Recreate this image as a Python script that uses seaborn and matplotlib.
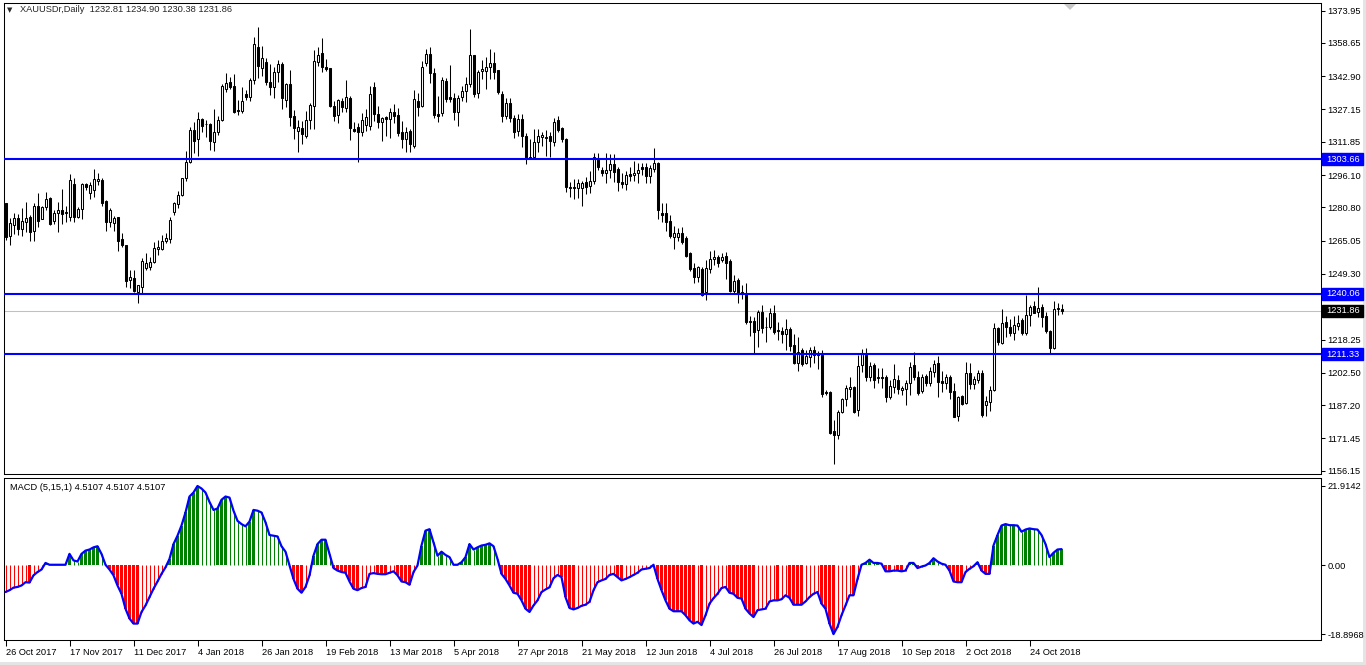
import matplotlib
matplotlib.use("Agg")
import matplotlib.pyplot as plt
import matplotlib.transforms as mtransforms
import numpy as np
import seaborn as sns
from matplotlib.patches import Polygon, Rectangle

# ---------------- data ----------------
opens = [
    1282.7, 1267.4, 1272.5, 1275.6, 1270.4, 1274.0, 1276.1, 1269.8, 1281.5, 1275.5,
    1281.1, 1285.4, 1274.4, 1278.0, 1279.6, 1278.0, 1276.4, 1291.9, 1276.4, 1279.9,
    1291.9, 1287.5, 1289.0, 1293.5, 1293.8, 1284.0, 1274.0, 1273.3, 1276.1, 1265.8,
    1263.0, 1246.6, 1247.2, 1240.9, 1243.3, 1252.0, 1252.4, 1254.8, 1260.9, 1261.0,
    1264.9, 1266.0, 1278.5, 1282.3, 1286.7, 1294.6, 1302.1, 1317.4, 1313.0, 1322.5,
    1320.4, 1320.1, 1311.9, 1316.3, 1322.2, 1336.8, 1340.0, 1338.2, 1326.9, 1326.6,
    1334.5, 1333.2, 1341.1, 1356.9, 1346.6, 1349.5, 1340.3, 1338.0, 1344.7, 1348.5,
    1331.5, 1339.2, 1324.1, 1317.1, 1318.2, 1314.8, 1322.2, 1329.0, 1349.8, 1353.7,
    1347.4, 1346.6, 1329.0, 1324.5, 1331.1, 1327.7, 1332.4, 1317.9, 1318.7, 1316.6,
    1319.8, 1319.5, 1337.9, 1324.8, 1321.4, 1323.4, 1322.5, 1325.8, 1324.5, 1316.3,
    1313.0, 1317.0, 1310.0, 1331.3, 1329.0, 1349.3, 1353.2, 1344.3, 1325.0, 1325.3,
    1340.6, 1333.2, 1332.4, 1326.1, 1333.2, 1335.9, 1339.0, 1352.9, 1334.8, 1345.4,
    1345.5, 1347.1, 1349.0, 1345.8, 1334.5, 1324.2, 1330.0, 1323.3, 1316.9, 1322.6,
    1314.8, 1304.8, 1304.8, 1311.9, 1314.0, 1314.3, 1314.6, 1311.9, 1322.2, 1318.2,
    1313.0, 1290.6, 1290.6, 1290.1, 1289.8, 1293.0, 1290.9, 1293.5, 1303.6, 1298.5,
    1296.9, 1298.5, 1301.4, 1298.8, 1293.0, 1291.7, 1296.6, 1296.1, 1296.9, 1300.1,
    1300.1, 1295.7, 1298.8, 1302.0, 1278.3, 1278.3, 1274.5, 1267.0, 1266.6, 1268.8,
    1266.2, 1259.1, 1251.9, 1247.7, 1251.5, 1241.0, 1251.5, 1256.2, 1257.2, 1255.9,
    1257.8, 1255.6, 1241.4, 1246.4, 1240.9, 1239.8, 1226.7, 1227.2, 1222.8, 1231.5,
    1224.0, 1224.0, 1230.7, 1222.5, 1222.5, 1220.9, 1223.1, 1215.7, 1207.3, 1213.3,
    1207.0, 1210.2, 1213.3, 1211.4, 1210.9, 1193.6, 1193.6, 1175.2, 1173.1, 1184.1,
    1190.0, 1194.7, 1196.0, 1184.9, 1206.2, 1211.0, 1200.4, 1206.2, 1200.7, 1200.7,
    1200.7, 1190.9, 1196.0, 1199.1, 1194.4, 1194.7, 1197.5, 1206.2, 1200.7, 1194.1,
    1201.0, 1197.5, 1203.0, 1207.0, 1198.8, 1197.9, 1200.4, 1193.9, 1182.1, 1191.5,
    1188.1, 1202.6, 1197.2, 1199.1, 1202.6, 1187.3, 1188.8, 1194.4, 1223.6, 1216.5,
    1226.7, 1224.4, 1221.5, 1224.9, 1227.5, 1221.2, 1229.9, 1234.1, 1231.5, 1233.5,
    1229.4, 1222.5, 1214.1, 1232.6, 1232.81,
]
highs = [
    1283.0, 1275.6, 1278.3, 1277.5, 1280.4, 1283.5, 1277.2, 1282.7, 1287.5, 1281.5,
    1287.9, 1285.6, 1279.6, 1283.2, 1289.5, 1281.5, 1296.6, 1294.6, 1281.1, 1292.2,
    1292.2, 1293.0, 1298.8, 1296.9, 1294.6, 1284.3, 1280.7, 1276.7, 1276.4, 1268.5,
    1263.0, 1251.2, 1251.2, 1244.1, 1256.7, 1259.1, 1257.5, 1264.6, 1265.4, 1267.7,
    1268.5, 1276.1, 1283.5, 1288.6, 1294.9, 1307.5, 1319.0, 1321.1, 1325.8, 1323.0,
    1322.2, 1320.6, 1327.4, 1324.2, 1339.2, 1344.3, 1342.7, 1344.0, 1331.6, 1337.9,
    1336.4, 1341.9, 1361.6, 1366.0, 1357.2, 1351.7, 1348.5, 1347.4, 1350.6, 1349.8,
    1339.5, 1345.8, 1326.9, 1322.2, 1321.8, 1326.6, 1330.1, 1355.3, 1356.9, 1361.1,
    1351.0, 1346.9, 1331.2, 1332.1, 1332.4, 1341.1, 1333.7, 1321.1, 1320.6, 1325.3,
    1327.4, 1338.3, 1340.3, 1328.9, 1323.7, 1324.2, 1328.0, 1329.6, 1327.7, 1321.7,
    1319.0, 1317.9, 1336.4, 1334.8, 1350.1, 1355.6, 1356.6, 1346.6, 1333.7, 1342.7,
    1342.2, 1348.2, 1334.8, 1334.0, 1338.4, 1342.7, 1365.2, 1352.9, 1345.8, 1350.6,
    1352.1, 1355.8, 1354.2, 1345.8, 1335.9, 1332.4, 1332.4, 1324.5, 1324.9, 1324.9,
    1315.9, 1313.2, 1317.9, 1317.9, 1316.6, 1317.4, 1316.6, 1323.0, 1324.0, 1319.0,
    1313.5, 1293.0, 1294.1, 1294.1, 1293.5, 1295.0, 1298.2, 1306.7, 1306.4, 1300.1,
    1306.7, 1306.1, 1306.1, 1300.1, 1297.2, 1298.2, 1300.1, 1302.9, 1302.0, 1301.7,
    1302.0, 1300.9, 1308.8, 1302.5, 1282.7, 1283.0, 1277.2, 1272.0, 1270.9, 1271.4,
    1267.3, 1259.9, 1254.3, 1253.1, 1252.8, 1255.9, 1260.3, 1260.6, 1258.3, 1259.1,
    1259.9, 1256.2, 1248.8, 1247.2, 1244.1, 1244.9, 1229.4, 1228.8, 1232.3, 1234.6,
    1228.8, 1233.0, 1234.6, 1226.7, 1224.4, 1227.8, 1224.1, 1220.9, 1219.3, 1214.1,
    1213.3, 1214.6, 1215.2, 1213.0, 1213.3, 1194.4, 1194.1, 1180.0, 1184.9, 1190.5,
    1196.8, 1200.4, 1196.3, 1210.9, 1213.6, 1214.1, 1207.8, 1207.3, 1204.6, 1204.6,
    1201.5, 1199.1, 1206.7, 1201.5, 1196.3, 1199.1, 1207.8, 1212.5, 1203.5, 1201.9,
    1201.9, 1205.4, 1208.6, 1210.5, 1203.5, 1201.9, 1201.5, 1197.9, 1191.5, 1192.0,
    1207.8, 1207.3, 1201.0, 1203.9, 1203.9, 1191.5, 1196.3, 1226.3, 1224.4, 1232.6,
    1229.4, 1227.8, 1229.4, 1229.9, 1228.3, 1239.4, 1234.6, 1236.7, 1243.3, 1235.1,
    1231.5, 1222.8, 1236.7, 1235.7, 1234.90,
]
lows = [
    1265.5, 1263.0, 1268.2, 1267.7, 1267.3, 1269.3, 1264.9, 1264.9, 1271.7, 1275.2,
    1279.6, 1272.5, 1272.8, 1269.3, 1273.0, 1274.0, 1274.4, 1274.0, 1275.6, 1275.2,
    1289.0, 1285.0, 1285.9, 1291.4, 1281.5, 1269.8, 1271.7, 1269.8, 1260.3, 1261.9,
    1243.3, 1242.5, 1240.9, 1235.7, 1240.1, 1251.2, 1251.2, 1254.3, 1258.3, 1260.6,
    1264.1, 1264.1, 1277.2, 1280.7, 1286.4, 1293.5, 1301.7, 1306.4, 1305.3, 1316.6,
    1314.3, 1308.0, 1307.5, 1315.1, 1321.7, 1335.6, 1336.8, 1325.3, 1324.5, 1325.6,
    1331.6, 1331.2, 1339.0, 1341.9, 1343.2, 1338.7, 1334.0, 1332.4, 1340.3, 1327.4,
    1328.5, 1319.5, 1313.2, 1306.9, 1310.6, 1313.8, 1317.9, 1317.9, 1347.9, 1344.7,
    1345.4, 1328.5, 1321.7, 1320.6, 1326.1, 1326.1, 1312.7, 1316.3, 1302.4, 1314.8,
    1317.0, 1317.4, 1321.7, 1318.2, 1312.2, 1314.8, 1313.5, 1320.9, 1314.8, 1309.1,
    1307.2, 1306.9, 1309.1, 1324.2, 1328.5, 1347.9, 1339.5, 1323.0, 1321.1, 1324.2,
    1330.5, 1330.5, 1322.2, 1319.5, 1331.2, 1330.5, 1337.9, 1333.2, 1332.7, 1341.6,
    1336.8, 1341.6, 1341.6, 1334.3, 1321.4, 1322.6, 1321.1, 1313.8, 1314.8, 1309.5,
    1301.2, 1303.7, 1304.0, 1307.2, 1309.9, 1305.1, 1304.5, 1309.9, 1316.6, 1311.9,
    1288.3, 1285.9, 1284.6, 1285.1, 1281.5, 1287.1, 1287.5, 1291.9, 1298.5, 1295.7,
    1292.2, 1294.6, 1293.0, 1288.7, 1289.8, 1289.0, 1293.5, 1293.5, 1292.2, 1296.1,
    1292.5, 1292.5, 1297.7, 1275.2, 1274.0, 1269.8, 1266.2, 1261.0, 1265.1, 1263.5,
    1257.5, 1250.9, 1245.2, 1245.7, 1238.9, 1237.0, 1249.9, 1253.6, 1252.4, 1255.1,
    1246.8, 1240.9, 1240.1, 1235.7, 1237.3, 1225.6, 1220.0, 1211.4, 1214.6, 1221.2,
    1217.3, 1223.1, 1220.9, 1218.1, 1216.5, 1213.3, 1213.0, 1206.7, 1203.5, 1205.8,
    1206.7, 1205.1, 1207.3, 1204.2, 1190.9, 1192.0, 1173.6, 1159.4, 1171.1, 1183.7,
    1186.8, 1191.2, 1183.7, 1182.1, 1203.1, 1198.8, 1198.8, 1195.2, 1197.9, 1195.2,
    1188.9, 1190.0, 1192.8, 1192.5, 1192.0, 1187.3, 1192.0, 1199.1, 1192.0, 1192.8,
    1196.3, 1196.3, 1200.4, 1190.9, 1193.6, 1194.7, 1190.0, 1181.4, 1179.9, 1187.3,
    1187.8, 1194.7, 1194.7, 1197.5, 1181.8, 1182.1, 1184.6, 1194.1, 1215.7, 1216.2,
    1219.6, 1219.9, 1218.1, 1222.8, 1220.4, 1220.4, 1224.7, 1230.7, 1228.8, 1224.1,
    1221.5, 1211.4, 1213.6, 1229.9, 1230.38,
]
closes = [
    1266.6, 1273.3, 1275.6, 1270.4, 1274.4, 1275.6, 1269.3, 1281.5, 1274.4, 1280.8,
    1284.8, 1272.8, 1278.3, 1279.6, 1277.5, 1278.8, 1293.8, 1276.4, 1279.9, 1291.9,
    1290.6, 1291.4, 1294.1, 1294.1, 1283.0, 1274.0, 1279.6, 1275.6, 1265.1, 1263.0,
    1246.1, 1247.9, 1241.4, 1244.1, 1255.4, 1254.3, 1255.1, 1261.4, 1261.9, 1264.9,
    1266.2, 1274.8, 1282.7, 1286.7, 1294.6, 1302.4, 1317.4, 1312.2, 1322.6, 1319.5,
    1320.1, 1312.2, 1316.3, 1322.2, 1338.4, 1339.5, 1338.0, 1325.8, 1326.6, 1331.3,
    1333.2, 1341.1, 1358.0, 1347.9, 1351.7, 1340.0, 1338.0, 1344.7, 1348.5, 1332.4,
    1339.0, 1323.7, 1318.2, 1318.7, 1315.7, 1322.2, 1329.3, 1350.1, 1352.9, 1347.4,
    1346.3, 1329.0, 1324.2, 1331.6, 1328.5, 1333.2, 1318.2, 1317.1, 1316.6, 1322.2,
    1323.7, 1334.5, 1324.8, 1321.4, 1323.0, 1322.5, 1325.8, 1324.2, 1315.9, 1313.0,
    1316.3, 1310.6, 1331.9, 1328.5, 1347.1, 1353.2, 1344.3, 1324.5, 1324.2, 1341.1,
    1332.1, 1332.1, 1326.1, 1332.4, 1335.9, 1339.0, 1352.9, 1334.5, 1344.7, 1346.3,
    1347.4, 1349.0, 1345.0, 1335.6, 1324.2, 1330.0, 1323.0, 1316.3, 1322.6, 1314.8,
    1304.0, 1304.3, 1311.6, 1314.6, 1315.1, 1313.5, 1312.4, 1321.4, 1317.4, 1313.0,
    1290.3, 1289.8, 1289.8, 1292.5, 1292.5, 1290.6, 1293.5, 1304.5, 1300.1, 1297.2,
    1298.5, 1301.4, 1297.7, 1293.0, 1291.7, 1296.1, 1295.7, 1296.9, 1298.5, 1298.8,
    1295.7, 1299.3, 1301.7, 1279.6, 1277.2, 1274.0, 1267.3, 1268.5, 1268.8, 1264.6,
    1257.8, 1251.5, 1247.7, 1252.4, 1239.3, 1251.9, 1256.2, 1257.5, 1254.3, 1257.2,
    1254.6, 1241.4, 1246.1, 1240.5, 1240.1, 1226.7, 1227.2, 1222.0, 1231.5, 1223.6,
    1224.1, 1230.7, 1222.0, 1222.6, 1220.9, 1223.1, 1215.2, 1207.0, 1212.5, 1206.7,
    1210.5, 1213.3, 1211.0, 1210.9, 1192.5, 1192.8, 1173.9, 1173.1, 1184.1, 1190.0,
    1195.2, 1195.6, 1184.1, 1205.8, 1211.7, 1200.4, 1205.8, 1199.1, 1199.9, 1199.9,
    1190.9, 1196.3, 1199.4, 1195.0, 1195.5, 1197.9, 1205.1, 1200.7, 1192.8, 1200.7,
    1197.9, 1203.5, 1206.7, 1198.3, 1197.9, 1200.4, 1193.6, 1181.8, 1190.9, 1187.8,
    1202.3, 1197.2, 1199.4, 1202.6, 1182.6, 1189.3, 1194.4, 1223.6, 1217.3, 1226.3,
    1224.4, 1221.5, 1225.2, 1226.3, 1221.2, 1229.9, 1233.8, 1231.0, 1233.0, 1228.8,
    1222.5, 1214.1, 1232.6, 1233.0, 1231.86,
]
macd = [
    -7.3, -6.8, -6.1, -5.9, -5.5, -4.6, -4.7, -2.7, -1.8, -1.1,
    0.7, 0.2, 0.2, 0.2, 0.2, 0.2, 3.2, 1.4, 1.1, 3.2,
    4.1, 4.4, 5.0, 5.3, 3.2, 0.2, -1.1, -2.7, -5.5, -7.8,
    -11.9, -14.6, -16.0, -16.0, -12.8, -11.0, -8.7, -6.4, -4.4, -2.3,
    -0.5, 1.8, 5.9, 8.2, 11.0, 14.6, 19.0, 20.1, 21.9, 21.2,
    20.1, 17.5, 15.3, 15.7, 18.1, 19.0, 18.7, 15.1, 12.3, 11.4,
    10.8, 12.1, 15.3, 15.1, 14.6, 11.9, 8.4, 8.2, 8.0, 5.3,
    3.8, 0.0, -3.7, -6.4, -7.5, -5.9, -2.7, 2.7, 5.9, 7.1,
    7.1, 3.2, -0.7, -1.4, -1.8, -2.0, -4.4, -6.4, -6.8, -6.2,
    -5.9, -2.3, -2.1, -2.3, -2.4, -2.4, -2.0, -1.6, -2.7, -4.4,
    -4.6, -5.3, -1.8, 0.0, 5.5, 9.6, 10.0, 6.4, 2.7, 3.8,
    2.9, 2.3, 0.2, 0.2, 0.9, 2.3, 5.9, 4.4, 5.0, 5.5,
    5.7, 6.1, 5.3, 1.8, -2.3, -3.7, -5.5, -7.5, -7.8, -9.6,
    -11.9, -12.8, -11.0, -9.6, -7.3, -6.6, -6.0, -3.5, -2.6, -3.2,
    -8.7, -11.7, -12.1, -11.7, -11.1, -10.8, -10.0, -6.8, -4.6, -4.1,
    -3.7, -2.6, -2.3, -3.2, -4.1, -3.7, -3.2, -2.6, -2.0, -1.1,
    -0.9, -0.7, 0.2, -3.7, -6.8, -9.6, -11.9, -12.6, -12.6, -12.6,
    -13.7, -15.1, -16.0, -15.5, -16.4, -13.7, -10.5, -9.0, -7.8, -6.2,
    -5.9, -7.5, -7.8, -8.9, -9.1, -11.9, -13.2, -14.2, -12.3, -12.1,
    -11.9, -9.9, -9.6, -9.6, -9.3, -8.2, -8.9, -10.8, -10.8, -10.8,
    -9.9, -8.7, -7.8, -7.3, -10.5, -11.9, -16.0, -18.9, -16.9, -13.7,
    -11.0, -8.2, -8.2, -3.7, 0.2, 0.7, 1.6, 0.7, 0.7, 0.5,
    -1.6, -1.6, -1.4, -1.4, -1.6, -1.4, 0.7, 0.7, -0.7, -0.3,
    0.0, 0.7, 2.0, 1.1, 0.5, 0.2, -1.4, -4.4, -4.6, -4.6,
    -1.8, -0.9, -0.2, 0.9, -1.4, -2.3, -2.3, 5.5, 8.4, 11.0,
    11.4, 11.1, 11.1, 11.0, 9.3, 9.9, 10.2, 10.0, 9.9, 8.4,
    5.9, 2.3, 3.5, 4.4, 4.51,
]
date_labels = ["26 Oct 2017", "17 Nov 2017", "11 Dec 2017", "4 Jan 2018", "26 Jan 2018",
               "19 Feb 2018", "13 Mar 2018", "5 Apr 2018", "27 Apr 2018", "21 May 2018",
               "12 Jun 2018", "4 Jul 2018", "26 Jul 2018", "17 Aug 2018", "10 Sep 2018",
               "2 Oct 2018", "24 Oct 2018"]
date_label_bars = [0, 16, 32, 48, 64, 80, 96, 112, 128, 144, 160, 176, 192, 208, 224, 240, 256]
price_ticks = [1373.95, 1358.65, 1342.90, 1327.15, 1311.85, 1296.10, 1280.80, 1265.05,
               1249.30, 1233.55, 1218.25, 1202.50, 1187.20, 1171.45, 1156.15]
hidden_tick = 1233.55   # its label sits under the bid-price box in the reference
level_lines = [1303.66, 1240.06, 1211.33]
bid_price = 1231.86
macd_ticks = [21.9142, 0.0, -18.8968]
macd_tick_labels = ["21.9142", "0.00", "-18.8968"]
header = "XAUUSDr,Daily  1232.81 1234.90 1230.38 1231.86"
macd_title = "MACD (5,15,1) 4.5107 4.5107 4.5107"

# ---------------- styling ----------------
sns.set_style("white")
plt.rcParams['font.family'] = ['Liberation Sans', 'DejaVu Sans']
FS = 6.7
BLUE = '#0000FF'

W, H = 1366, 665
fig = plt.figure(figsize=(W / 100, H / 100), dpi=100)
fig.patch.set_facecolor('white')

# light window frame (behind everything)
fig.patches.append(Rectangle((1363 / W, 0), 3 / W, 1, transform=fig.transFigure,
                             facecolor='#E4E4E4', edgecolor='none', zorder=-5))
fig.patches.append(Rectangle((0, 0), 1, 3 / H, transform=fig.transFigure,
                             facecolor='#E4E4E4', edgecolor='none', zorder=-5))


def frac(l, t, r, b):
    return [l / W, 1 - b / H, (r - l) / W, (b - t) / H]


AX_L, AX_R = 4, 1321
ax1 = fig.add_axes(frac(AX_L, 3, AX_R, 474))
ax2 = fig.add_axes(frac(AX_L, 478, AX_R, 640))
AXW = AX_R - AX_L
for ax in (ax1, ax2):
    ax.set_zorder(2)

n = len(closes)
idx = np.arange(n)
o = np.array(opens); h = np.array(highs); l = np.array(lows); c = np.array(closes)

# ---------------- price panel ----------------
ax1.axhline(bid_price, color='#C0C0C0', lw=0.75, zorder=1)
ax1.vlines(idx, l, h, color='black', lw=0.75, zorder=2)
bull = c >= o
body_bottom = np.minimum(o, c)
body_h = np.maximum(np.abs(c - o), 0.25)
ax1.bar(idx[bull], body_h[bull], bottom=body_bottom[bull], width=0.5,
        facecolor='white', edgecolor='black', linewidth=0.75, zorder=3)
ax1.bar(idx[~bull], body_h[~bull], bottom=body_bottom[~bull], width=0.5,
        facecolor='black', edgecolor='black', linewidth=0.75, zorder=3)
for v in level_lines:
    ax1.axhline(v, color=BLUE, lw=1.5, zorder=4)

ax1.set_xlim(-0.375, 328.875)
ax1.set_ylim(1154.64, 1377.54)
ax1.yaxis.tick_right()
ax1.set_yticks(price_ticks)
ax1.set_yticklabels(["" if v == hidden_tick else f"{v:.2f}" for v in price_ticks])
ax1.set_xticks([])
ax1.tick_params(axis='y', direction='out', length=3, width=0.75, pad=1.5,
                labelsize=FS, colors='black', right=True, left=False)

# price-label boxes on the right scale
PX_PER_USD = 471 / (1377.54 - 1154.64)
box_h = 12 / PX_PER_USD
trans = mtransforms.blended_transform_factory(ax1.transAxes, ax1.transData)
for v, fc in [(lv, BLUE) for lv in level_lines] + [(bid_price, 'black')]:
    ax1.add_patch(Rectangle((1 + 1 / AXW, v - box_h / 2), 41 / AXW, box_h,
                            transform=trans, facecolor=fc, edgecolor=fc,
                            clip_on=False, zorder=9))
    ax1.text(1 + 5 / AXW, v, f"{v:.2f}", transform=trans, ha='left', va='center',
             fontsize=FS, color='white', zorder=10, clip_on=False)

# ---------------- MACD panel ----------------
m = np.array(macd)
prev = np.concatenate([[m[0]], m[:-1]])
pos = m >= 0
thick = np.where(pos, m >= prev, m <= prev)
thick[0] = False
colors = np.where(pos, '#008000', '#FF0000')
ax2.bar(idx[thick], m[thick], width=0.75, color=colors[thick], linewidth=0, zorder=2)
ax2.vlines(idx[~thick], 0, m[~thick], colors=colors[~thick], lw=0.75, zorder=2)
sns.lineplot(x=idx, y=m, ax=ax2, color=BLUE, lw=1.6, zorder=3, legend=False)
ax2.set_xlabel('')
ax2.set_ylabel('')
ax2.set_xlim(-0.375, 328.875)
ax2.set_ylim(-20.52, 24.1)
ax2.yaxis.tick_right()
ax2.set_yticks(macd_ticks)
ax2.set_yticklabels(macd_tick_labels)
ax2.set_xticks(date_label_bars)
ax2.set_xticklabels(date_labels, ha='left')
ax2.tick_params(axis='y', direction='out', length=3, width=0.75, pad=1.5,
                labelsize=FS, colors='black', right=True, left=False)
ax2.tick_params(axis='x', direction='out', length=4, width=0.75, pad=2,
                labelsize=FS, colors='black', bottom=True)
ax2.text(6 / AXW, 1 - 9 / 162, macd_title, transform=ax2.transAxes,
         fontsize=FS, va='center', ha='left', color='black')

for ax in (ax1, ax2):
    for s in ax.spines.values():
        s.set_color('black')
        s.set_linewidth(0.75)
    ax.grid(False)

# ---------------- header & decorations ----------------
fig.text(7 / W, 1 - 10 / H, "\u25BC", fontsize=5, va='center', ha='left',
         family=['DejaVu Sans'], zorder=5)
fig.text(20 / W, 1 - 10 / H, header, fontsize=FS, va='center', ha='left', zorder=5)

tri = Polygon([(1064 / W, 1 - 4 / H), (1076 / W, 1 - 4 / H), (1070 / W, 1 - 10 / H)],
              closed=True, transform=fig.transFigure, facecolor='#C8C8C8',
              edgecolor='none', zorder=5)
fig.patches.append(tri)

fig.savefig("out.png", dpi=100)
